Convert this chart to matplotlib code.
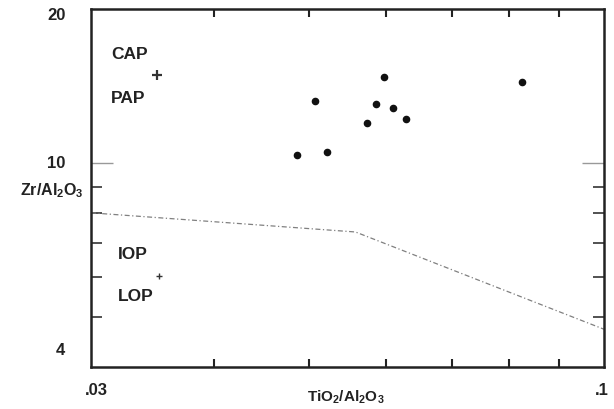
import matplotlib
matplotlib.use("Agg")
import matplotlib.pyplot as plt
from matplotlib.ticker import FixedLocator, NullFormatter

# Data
sample_x = [0.0487, 0.0507, 0.0522, 0.0574, 0.0585, 0.0597, 0.0610, 0.0628, 0.0824]
sample_y = [10.38, 13.25, 10.51, 11.97, 13.04, 14.72, 12.81, 12.19, 14.43]
ref_x = [0.0350, 0.0352]
ref_y = [14.87, 6.02]
boundary_x = [0.03, 0.0558, 0.1]
boundary_y = [8.0, 7.34, 4.74]
field_labels = ["CAP", "PAP", "IOP", "LOP"]
field_x = [0.03144, 0.03144, 0.03196, 0.03196]
field_y = [16.3, 13.35, 6.64, 5.48]
x_major = [0.03, 0.1]
x_major_labels = [".03", ".1"]
x_minor = [0.04, 0.05, 0.06, 0.07, 0.08, 0.09]
y_major = [4, 10, 20]
y_major_labels = ["4", "10", "20"]
y_minor = [5, 6, 7, 8, 9]

plt.rcParams['font.family'] = ['Liberation Sans', 'DejaVu Sans']
plt.rcParams['mathtext.fontset'] = 'custom'
plt.rcParams['mathtext.rm'] = 'Liberation Sans'
plt.rcParams['mathtext.bf'] = 'Liberation Sans:bold'
fig = plt.figure(figsize=(6.14, 4.09), dpi=100)
ax = fig.add_axes([0.1482, 0.1027, 0.8355, 0.8753])
ax.set_xscale('log')
ax.set_yscale('log')
ax.set_xlim(0.03, 0.1)
ax.set_ylim(4, 20)

ax.plot(boundary_x, boundary_y, color='#808080', lw=0.9, ls=(0, (4, 2, 1, 2)))
ax.scatter(sample_x, sample_y, s=20, color='#111111', zorder=3)
ax.scatter(ref_x[:1], ref_y[:1], marker='+', s=45, color='#333333', linewidths=1.6, zorder=3)
ax.scatter(ref_x[1:], ref_y[1:], marker='+', s=14, color='#333333', linewidths=1.0, zorder=3)

for lab, xx, yy in zip(field_labels, field_x, field_y):
    ax.text(xx, yy, lab, fontsize=12.5, fontweight='bold', color='#222222',
            ha='left', va='center')

for sp in ax.spines.values():
    sp.set_linewidth(1.8)
    sp.set_color('#222222')

ax.xaxis.set_major_locator(FixedLocator([]))
ax.xaxis.set_minor_locator(FixedLocator(x_minor))
ax.xaxis.set_minor_formatter(NullFormatter())
ax.yaxis.set_major_locator(FixedLocator([10]))
ax.yaxis.set_major_formatter(NullFormatter())
ax.yaxis.set_minor_locator(FixedLocator(y_minor))
ax.yaxis.set_minor_formatter(NullFormatter())
ax.tick_params(which='both', direction='in', top=True, right=True)
ax.tick_params(axis='x', which='minor', length=6, width=1.5, color='#222222')
ax.tick_params(axis='y', which='minor', length=8, width=1.2, color='#333333')
ax.tick_params(axis='y', which='major', length=16, width=1.0, color='#999999')

# Tick labels placed as in the reference
trans_x = ax.get_xaxis_transform()
x_label_pos = {0.03: 0.0304, 0.1: 0.0995}
for v, lab in zip(x_major, x_major_labels):
    ax.text(x_label_pos[v], -0.045, lab, transform=trans_x, ha='center', va='top',
            fontsize=12, fontweight='bold', color='#222222')
trans_y = ax.get_yaxis_transform()
y_label_pos = {4: 4.3, 10: 10.0, 20: 19.4}
for v, lab in zip(y_major, y_major_labels):
    ax.text(-0.05, y_label_pos[v], lab, transform=trans_y, ha='right', va='center',
            fontsize=12, fontweight='bold', color='#222222')

ax.text(-0.015, 8.85, r'Zr/Al$_\mathbf{2}$O$_\mathbf{3}$', transform=trans_y, ha='right', va='center',
        fontsize=11.5, fontweight='bold', color='#222222')
ax.text(0.0498, -0.06, r'TiO$_\mathbf{2}$/Al$_\mathbf{2}$O$_\mathbf{3}$', transform=trans_x,
        ha='left', va='top', fontsize=11, fontweight='bold', color='#222222')

fig.savefig('out.png', dpi=100)
